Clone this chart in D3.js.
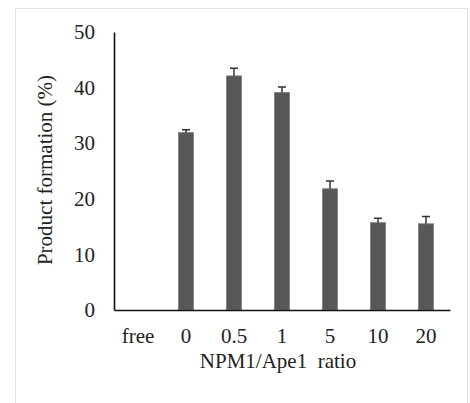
<!DOCTYPE html>
<html>
<head>
<meta charset="utf-8">
<script src="https://cdn.jsdelivr.net/npm/d3@7"></script>
<style>
  body { margin: 0; background: #fff; }
  text { font-family: "Liberation Serif", "Times New Roman", serif; fill: #222; }
</style>
</head>
<body>
<div id="chart"></div>
<script>
// ratios on the x axis, "free" has no bar
var ratios = ['free', '0', '0.5', '1', '5', '10', '20']
var product = [null, 31.9, 42.1, 39.1, 21.8, 15.7, 15.5]
var errors = [null, 0.5, 1.4, 1.0, 1.4, 0.8, 1.3]
var yTicks = [0, 10, 20, 30, 40, 50]

var svgWidth = 470, svgHeight = 403
var margin = { top: 32, right: 20, bottom: 93, left: 114 }
var width = svgWidth - margin.left - margin.right,
    height = svgHeight - margin.top - margin.bottom
var fontSize = '21px'

var root = d3.select('#chart').append('svg')
    .attr('width', svgWidth)
    .attr('height', svgHeight)

// faint frame round the figure
root.append('rect')
    .attr('x', 15.5).attr('y', 8.5)
    .attr('width', 452).attr('height', 400)
    .attr('fill', 'none')
    .attr('stroke', '#e2e2e2')

var svg = root.append('g')
    .attr('transform', 'translate(' + margin.left + ',' + margin.top + ')')

var data = ratios.map((r, i) => ({ ratio: r, value: product[i], err: errors[i] }))

var xScale = d3.scaleBand()
    .domain(ratios)
    .range([0, width])
    .paddingInner(0.69)
    .paddingOuter(0.345)

var yScale = d3.scaleLinear()
    .domain([0, 50])
    .range([height, 0])

// Y axis
var yAxis = svg.append('g')
    .call(d3.axisLeft(yScale).tickValues(yTicks).tickSize(0).tickPadding(19))
yAxis.attr('font-size', null).attr('font-family', null)
yAxis.select('.domain').attr('stroke', '#111').attr('stroke-width', 1.6)
yAxis.selectAll('text').style('font-size', fontSize).attr('fill', '#222')

// bars
var bars = data.filter(d => d.value !== null)

svg.selectAll('rect.bar')
    .data(bars)
    .enter()
    .append('rect')
    .attr('class', 'bar')
    .attr('x', d => xScale(d.ratio))
    .attr('y', d => yScale(d.value))
    .attr('width', xScale.bandwidth())
    .attr('height', d => height - yScale(d.value))
    .attr('fill', '#585858')
    .attr('stroke', '#7a7a7a')
    .attr('stroke-width', 0.8)

// error bars, only upward like excel
var cap = 4
svg.selectAll('path.err')
    .data(bars)
    .enter()
    .append('path')
    .attr('class', 'err')
    .attr('d', d => {
        var cx = xScale(d.ratio) + xScale.bandwidth() / 2
        var y0 = yScale(d.value), y1 = yScale(d.value + d.err)
        return 'M' + cx + ',' + y0 + 'V' + y1 + 'M' + (cx - cap) + ',' + y1 + 'H' + (cx + cap)
    })
    .attr('stroke', '#333')
    .attr('stroke-width', 1.5)
    .attr('fill', 'none')

// X axis
var xAxis = svg.append('g')
    .attr('transform', 'translate(0,' + height + ')')
    .call(d3.axisBottom(xScale).tickSize(0).tickPadding(18))
xAxis.attr('font-size', null).attr('font-family', null)
xAxis.select('.domain').attr('stroke', '#111').attr('stroke-width', 1.6)
xAxis.selectAll('text').style('font-size', fontSize).attr('fill', '#222')

// axis titles
svg.append('text')
    .attr('text-anchor', 'middle')
    .attr('x', width / 2 - 4)
    .attr('y', height + 58)
    .style('font-size', fontSize)
    .style('white-space', 'pre')
    .text('NPM1/Ape1  ratio')

svg.append('text')
    .attr('text-anchor', 'middle')
    .attr('x', -height / 2 + 1)
    .attr('y', -62)
    // rotates counterclockwise around point (0, 0)
    .attr('transform', 'rotate(-90)')
    .style('font-size', fontSize)
    .text('Product formation (%)')
</script>
</body>
</html>
